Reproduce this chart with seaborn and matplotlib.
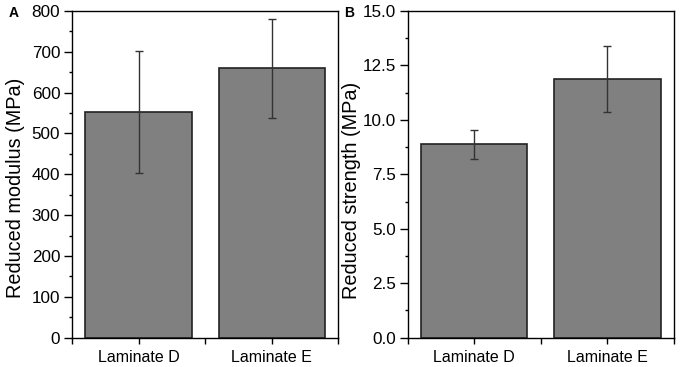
import numpy as np
import matplotlib
matplotlib.use('Agg')
import matplotlib.pyplot as plt
from matplotlib.ticker import MultipleLocator, FormatStrFormatter
import seaborn as sns

# data
laminates = ['Laminate D', 'Laminate E']
modulus = [553, 660]
modulus_err = [150, 121]
strength = [8.87, 11.88]
strength_err = [0.66, 1.5]

sns.set_style('ticks')
plt.rcParams['font.family'] = ['Liberation Sans', 'DejaVu Sans']
plt.rcParams['text.color'] = 'black'
plt.rcParams['axes.labelcolor'] = 'black'
plt.rcParams['xtick.color'] = 'black'
plt.rcParams['ytick.color'] = 'black'

fig, axes = plt.subplots(1, 2, figsize=(6.8, 3.67), dpi=100)

panels = [
    (axes[0], modulus, modulus_err, 'Reduced modulus (MPa)', (0, 800), 100, 50, 0.46),
    (axes[1], strength, strength_err, 'Reduced strength (MPa)', (0, 15), 2.5, 1.25, 0.45),
]

for ax, vals, errs, ylab, ylim, major, minor, label_y in panels:
    sns.barplot(x=laminates, y=vals, ax=ax, color='#808080', saturation=1,
                width=0.8, edgecolor='#222222', linewidth=1.2, errorbar=None)
    ax.errorbar(np.arange(len(laminates)), vals, yerr=errs, fmt='none',
                ecolor='#333333', elinewidth=1, capsize=3, capthick=1)
    ax.set_xlim(-0.5, 1.5)
    ax.set_ylim(*ylim)
    ax.yaxis.set_major_locator(MultipleLocator(major))
    ax.yaxis.set_minor_locator(MultipleLocator(minor))
    ax.xaxis.set_minor_locator(MultipleLocator(0.5))
    if major == 2.5:
        ax.yaxis.set_major_formatter(FormatStrFormatter('%.1f'))
    ax.tick_params(axis='y', which='major', direction='out', length=6, width=1,
                   labelsize=12.3, pad=2.5)
    ax.tick_params(axis='y', which='minor', direction='out', length=2.4, width=1)
    ax.tick_params(axis='x', which='both', direction='out', length=4.5, width=1)
    ax.tick_params(axis='x', which='major', labelsize=11.5, pad=4.5)
    ax.set_ylabel(ylab, fontsize=14.3)
    ax.yaxis.set_label_coords(-0.175, label_y)
    ax.set_xlabel('')
    for s in ax.spines.values():
        s.set_visible(True)
        s.set_linewidth(1)
        s.set_color('black')

fig.subplots_adjust(left=0.106, right=0.991, top=0.970, bottom=0.080, wspace=0.26)

for ax, letter in zip(axes, ['A', 'B']):
    pos = ax.get_position()
    fig.text(pos.x0 - 0.094, 0.985, letter, fontsize=10, fontweight='bold',
             ha='left', va='top')

fig.savefig('out.png', dpi=100)
